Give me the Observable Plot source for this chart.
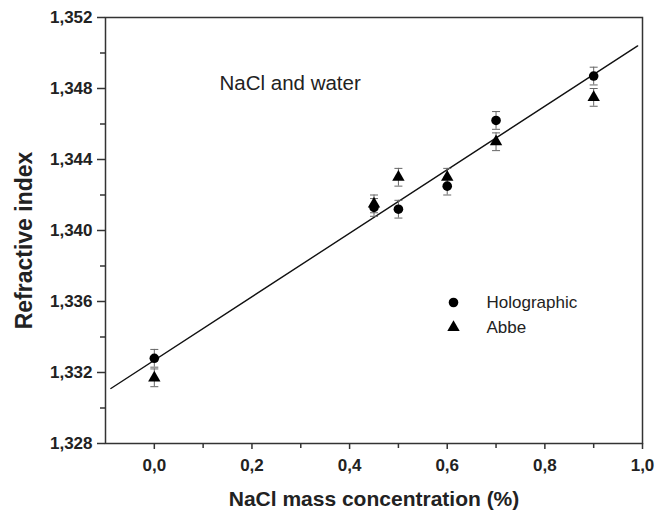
<!DOCTYPE html>
<html>
<head>
<meta charset="utf-8">
<script src="https://cdn.jsdelivr.net/npm/d3@7"></script>
<script src="https://cdn.jsdelivr.net/npm/@observablehq/plot@0.6"></script>
<style>
  html, body { margin: 0; padding: 0; background: #fff; }
  #chart svg { font-family: "Liberation Sans", Arial, sans-serif; }
</style>
</head>
<body>
<div id="chart"></div>
<script>
// ---- data ----
const concentrations = [0, 0.45, 0.5, 0.6, 0.7, 0.9];
const holographic = [1.3328, 1.3413, 1.3412, 1.3425, 1.3462, 1.3487];
const holographicErr = [0.0005, 0.0005, 0.0005, 0.0005, 0.0005, 0.0005];
const abbe = [1.3317, 1.3415, 1.3430, 1.3430, 1.3450, 1.3475];
const abbeErr = [0.0005, 0.0005, 0.0005, 0.0005, 0.0005, 0.0005];
const fitX = [-0.089, 0.99];
const fitY = [1.3311, 1.3504];
const xTicks = [0, 0.2, 0.4, 0.6, 0.8, 1.0];
const xMinorTicks = [0.1, 0.3, 0.5, 0.7, 0.9];
const yTicks = [1.328, 1.332, 1.336, 1.340, 1.344, 1.348, 1.352];
const yMinorTicks = [1.330, 1.334, 1.338, 1.342, 1.346, 1.350];
const seriesNames = ["Holographic", "Abbe"];
const annotation = "NaCl and water";
const xTitle = "NaCl mass concentration (%)";
const yTitle = "Refractive index";

// ---- build tables ----
const holoRows = concentrations.map((x, i) => ({x, y: holographic[i], e: holographicErr[i]}));
const abbeRows = concentrations.map((x, i) => ({x, y: abbe[i], e: abbeErr[i]}));
const errRows = holoRows.concat(abbeRows);
const fitRows = fitX.map((x, i) => ({x, y: fitY[i]}));

const comma = (f) => (d) => d3.format(f)(d).replace(".", ",");

const cap = {
  draw(ctx, size) {
    const w = 4;
    ctx.moveTo(-w, 0);
    ctx.lineTo(w, 0);
  }
};

const axisColor = "#333";
const textColor = "#222";

const chart = Plot.plot({
  width: 655,
  height: 516,
  marginLeft: 105,
  marginRight: 13,
  marginTop: 17,
  marginBottom: 73,
  x: {domain: [-0.1, 1.0]},
  y: {domain: [1.328, 1.352]},
  marks: [
    // minor ticks
    Plot.axisX({ticks: xMinorTicks, tickSize: 5, tickFormat: () => "", stroke: axisColor, strokeWidth: 1.5, label: null}),
    Plot.axisY({ticks: yMinorTicks, tickSize: 5, tickFormat: () => "", stroke: axisColor, strokeWidth: 1.5, label: null}),
    // major ticks
    Plot.axisX({ticks: xTicks, tickSize: 6, tickPadding: 9, tickFormat: comma(".1f"), stroke: axisColor, strokeWidth: 1.5,
      fontSize: 17, fontWeight: "bold", fill: textColor, label: null}),
    Plot.axisY({ticks: yTicks, tickSize: 8, tickPadding: 5, tickFormat: comma(".3f"), stroke: axisColor, strokeWidth: 1.5,
      fontSize: 17, fontWeight: "bold", fill: textColor, label: null}),
    Plot.frame({stroke: axisColor, strokeWidth: 1.5}),
    // fit line
    Plot.line(fitRows, {x: "x", y: "y", stroke: "#111", strokeWidth: 1.4}),
    // error bars
    Plot.ruleX(errRows, {x: "x", y1: d => d.y - d.e, y2: d => d.y + d.e, stroke: "#666", strokeWidth: 1}),
    Plot.dot(errRows, {x: "x", y: d => d.y - d.e, symbol: cap, r: 4, stroke: "#666", fill: "none", strokeWidth: 1}),
    Plot.dot(errRows, {x: "x", y: d => d.y + d.e, symbol: cap, r: 4, stroke: "#666", fill: "none", strokeWidth: 1}),
    // markers
    Plot.dot(holoRows, {x: "x", y: "y", symbol: "circle", r: 4.8, fill: "#000", stroke: "none"}),
    Plot.dot(abbeRows, {x: "x", y: "y", symbol: "triangle", r: 4.6, fill: "#000", stroke: "none"}),
    // annotation
    Plot.text([annotation], {frameAnchor: "top-left", dx: 114, dy: 66, text: d => d, textAnchor: "start",
      lineAnchor: "middle", fontSize: 20.5, fill: textColor}),
    // legend
    Plot.dot([seriesNames[0]], {frameAnchor: "top-left", dx: 348, dy: 285, symbol: "circle", r: 4.8, fill: "#000"}),
    Plot.dot([seriesNames[1]], {frameAnchor: "top-left", dx: 348, dy: 310, symbol: "triangle", r: 4.6, fill: "#000"}),
    Plot.text([seriesNames[0]], {frameAnchor: "top-left", dx: 381, dy: 285, text: d => d, textAnchor: "start",
      lineAnchor: "middle", fontSize: 17, fill: textColor}),
    Plot.text([seriesNames[1]], {frameAnchor: "top-left", dx: 381, dy: 310, text: d => d, textAnchor: "start",
      lineAnchor: "middle", fontSize: 17, fill: textColor}),
    // axis titles
    Plot.text([xTitle], {frameAnchor: "bottom", dy: 56, text: d => d, lineAnchor: "middle", textAnchor: "middle",
      fontSize: 21, fontWeight: "bold", fill: textColor}),
    Plot.text([yTitle], {frameAnchor: "left", dx: -81, dy: 10, text: d => d, rotate: -90, textAnchor: "middle",
      lineAnchor: "middle", fontSize: 23, fontWeight: "bold", fill: textColor})
  ]
});
document.getElementById("chart").appendChild(chart);
</script>
</body>
</html>
